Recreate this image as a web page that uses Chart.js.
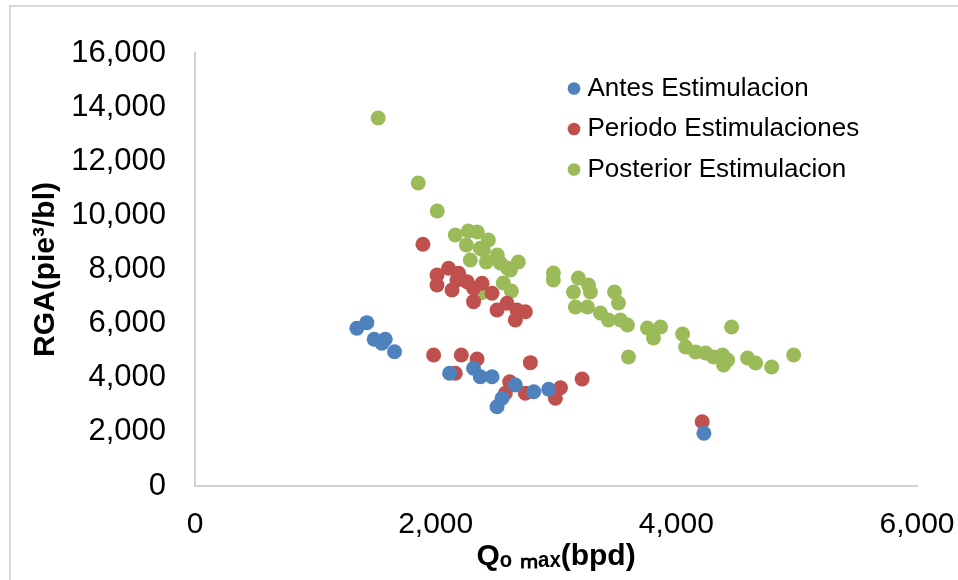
<!DOCTYPE html>
<html>
<head>
<meta charset="utf-8">
<script src="https://cdn.jsdelivr.net/npm/chart.js@4/dist/chart.umd.min.js"></script>
<style>
  html, body { margin: 0; padding: 0; background: #ffffff; }
  #wrap { position: relative; width: 958px; height: 580px; overflow: hidden; }
  #frame { position: absolute; left: 9px; top: 5px; width: 1000px; height: 640px;
           border: 2px solid #d9d9d9; box-sizing: border-box; pointer-events: none; }
  canvas { position: absolute; left: 0; top: 0; }
</style>
</head>
<body>
<div id="wrap">
  <div id="frame"></div>
  <canvas id="c" width="958" height="580"></canvas>
</div>
<script>
// ---- data ----
const seriesNames = ["Antes Estimulacion", "Periodo Estimulaciones", "Posterior Estimulacion"];

const antesX = [1345, 1428, 1489, 1581, 1553, 1658, 2116, 2315, 2371, 2468, 2510, 2552, 2662, 2815, 2939, 4229];
const antesY = [5828, 6035, 5421, 5421, 5274, 4963, 4165, 4350, 4039, 4039, 2931, 3241, 3733, 3485, 3574, 1948];

const periodoX = [1894, 2011, 2107, 2191, 2011, 2136, 2177, 2260, 2315, 2315, 2385, 2468, 2510, 2593, 2676, 2745, 2662,
                  1983, 2213, 2344, 2163, 2787, 2615, 2579, 2745, 3037, 2995, 3217, 4215];
const periodoY = [8932, 7798, 8045, 7860, 7428, 7243, 7613, 7550, 7306, 6811, 7491, 7121, 6504, 6752, 6504, 6441, 6135,
                  4841, 4841, 4693, 4165, 4557, 3854, 3426, 3426, 3633, 3241, 3954, 2376];

const posteriorX = [1522, 1855, 2013, 2163, 2271, 2346, 2438, 2255, 2396, 2512, 2288, 2421, 2537, 2687, 2596, 2562, 2629, 2379,
                    2978, 2978, 3186, 3270, 3145, 3286, 3486, 3519, 3161, 3261, 3369, 3436, 3536, 3594, 3602, 3760, 3869,
                    3810, 4052, 4077, 4160, 4243, 4309, 4384, 4426, 4393, 4459, 4592, 4659, 4792, 4975, 2371, 2621];
const posteriorY = [13599, 11197, 10163, 9276, 9424, 9387, 9091, 8906, 8721, 8537, 8352, 8278, 8241, 8278, 8056, 7502, 7206, 7132,
                    7871, 7613, 7687, 7428, 7169, 7169, 7169, 6763, 6615, 6615, 6393, 6135, 6135, 5950, 4767, 5839, 5876,
                    5469, 5617, 5137, 4952, 4915, 4767, 4841, 4656, 4472, 5876, 4730, 4545, 4398, 4841, 8784, 7982];

const xTicks = [0, 2000, 4000, 6000];
const yTicks = [0, 2000, 4000, 6000, 8000, 10000, 12000, 14000, 16000];

const colors = ["#4f81bd", "#c0504d", "#9bbb59"];

function pts(xs, ys) { return xs.map((x, i) => ({ x: x, y: ys[i] })); }

const legendPlace = {
  id: 'legendPlace',
  afterLayout(chart) {
    const lg = chart.legend;
    if (!lg) return;
    lg.left = 559;
    lg.top = 61;
  }
};

const FONT = "'Liberation Sans', Arial, sans-serif";

new Chart(document.getElementById('c'), {
  type: 'scatter',
  data: {
    datasets: [
      { label: seriesNames[0], data: pts(antesX, antesY), backgroundColor: colors[0], borderColor: colors[0] },
      { label: seriesNames[1], data: pts(periodoX, periodoY), backgroundColor: colors[1], borderColor: colors[1] },
      { label: seriesNames[2], data: pts(posteriorX, posteriorY), backgroundColor: colors[2], borderColor: colors[2] }
    ]
  },
  options: {
    responsive: false,
    animation: false,
    devicePixelRatio: 1,
    elements: { point: { radius: 7.5, borderWidth: 0, hoverRadius: 7.5 } },
    layout: { padding: { left: 10, top: 53, right: 41, bottom: 0 } },
    plugins: {
      tooltip: { enabled: false },
      legend: {
        position: 'chartArea',
        align: 'start',
        labels: {
          usePointStyle: true,
          pointStyle: 'circle',
          boxWidth: 1,
          boxHeight: 9,
          padding: 14.5,
          color: '#000000',
          font: { family: FONT, size: 26 }
        }
      }
    },
    scales: {
      x: {
        type: 'linear',
        min: 0, max: 6000,
        afterBuildTicks(scale) { scale.ticks = xTicks.map(v => ({ value: v })); },
        afterFit(scale) { scale.height = 94; },
        grid: { display: false, drawTicks: true, tickLength: 21 },
        border: { display: true, color: '#d0d0d0', width: 2 },
        ticks: {
          padding: 0,
          color: '#000000',
          font: { family: FONT, size: 30 },
          maxRotation: 0,
          callback: v => Number(v).toLocaleString('en-US')
        },
        title: {
          display: true,
          text: 'Qₒ ₘₐₓ(bpd)',
          color: '#000000',
          font: { family: FONT, size: 30, weight: 'bold' },
          padding: { top: 0, bottom: 5 }
        }
      },
      y: {
        type: 'linear',
        min: 0, max: 16000,
        afterBuildTicks(scale) { scale.ticks = yTicks.map(v => ({ value: v })); },
        afterFit(scale) { scale.width = 185; },
        grid: { display: false, drawTicks: false },
        border: { display: true, color: '#d0d0d0', width: 2 },
        ticks: {
          padding: 29,
          color: '#000000',
          font: { family: FONT, size: 31 },
          callback: v => Number(v).toLocaleString('en-US')
        },
        title: {
          display: true,
          text: 'RGA(pie³/bl)',
          color: '#000000',
          font: { family: FONT, size: 30, weight: 'bold' },
          padding: { top: 18, bottom: 0 }
        }
      }
    }
  },
  plugins: [legendPlace]
});
</script>
</body>
</html>
